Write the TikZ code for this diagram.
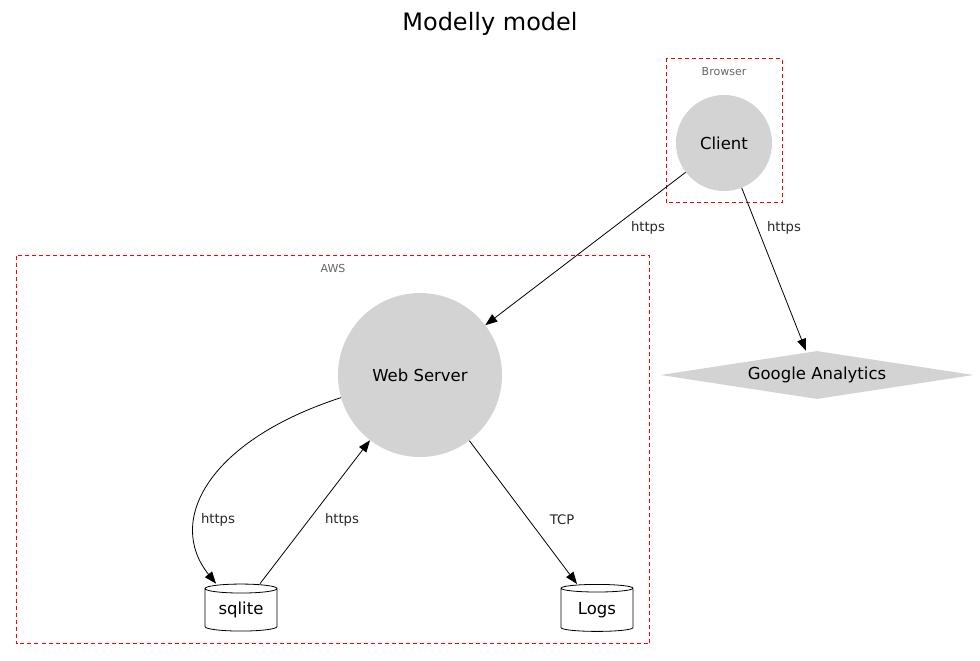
\documentclass[tikz,border=0pt]{standalone}
\usepackage{fontspec}
\setmainfont{DejaVu Sans}
\usetikzlibrary{arrows.meta,shapes.geometric}
\definecolor{circfill}{HTML}{D3D3D3}
\definecolor{grouplbl}{HTML}{666666}
\definecolor{groupred}{HTML}{FF0000}
\tikzset{
  circnode/.style={circle, fill=circfill, inner sep=0pt},
  groupbox/.style={draw=groupred, dash pattern=on 4pt off 3pt, line width=1pt},
  grouptext/.style={text=grouplbl, font=\fontsize{11}{13}\selectfont},
  dbnode/.style={cylinder, shape border rotate=90, aspect=0.2, draw, line width=0.8pt, fill=white,
                 minimum width=72pt, minimum height=47pt, inner sep=0pt, font=\fontsize{16.5}{19}\selectfont},
  edge/.style={line width=0.8pt, -{Triangle[length=12pt,width=9pt]}},
  lbl/.style={font=\fontsize{13.2}{15}\selectfont, text=black!85},
  mainfont/.style={font=\fontsize{16.5}{19}\selectfont}
}
\begin{document}
\begin{tikzpicture}[x=1pt,y=-1pt]
\useasboundingbox (0,0) rectangle (980,661);
\node[font=\fontsize{24}{28}\selectfont] (title) at (490,24) {Modelly model};
% groups
\draw[groupbox] (666,58.5) rectangle (782,202.5);
\node[grouptext] (browserlbl) at (724,72) {Browser};
\draw[groupbox] (16.5,255.5) rectangle (649.5,643.5);
\node[grouptext] (awslbl) at (333,268) {AWS};
% nodes
\node[circnode, mainfont, minimum size=96pt] (client) at (724,143) {Client};
\node[circnode, mainfont, minimum size=164pt] (ws) at (420,375) {Web Server};
\node[diamond, fill=circfill, mainfont, minimum width=313pt, minimum height=48pt, aspect=6.5, inner sep=0pt] (ga) at (817,375) {Google Analytics};
\node[dbnode] (sqlite) at (241,610) {sqlite};
\node[dbnode] (logs) at (597,610) {Logs};
% edges
\draw[edge] (client) -- (ws) node[lbl] at (648,228) {https};
\draw[edge] (client) -- ([xshift=-11pt]ga.north) node[lbl] at (784,228) {https};
\draw[edge] (ws.196) .. controls (210,440) and (165,520) .. ([xshift=-25pt]sqlite.north) node[lbl] at (218,520) {https};
\draw[edge] ([xshift=19pt]sqlite.north) -- (ws) node[lbl] at (342,520) {https};
\draw[edge] (ws) -- ([xshift=-20pt]logs.north) node[lbl] at (562,520) {TCP};
\end{tikzpicture}
\end{document}
